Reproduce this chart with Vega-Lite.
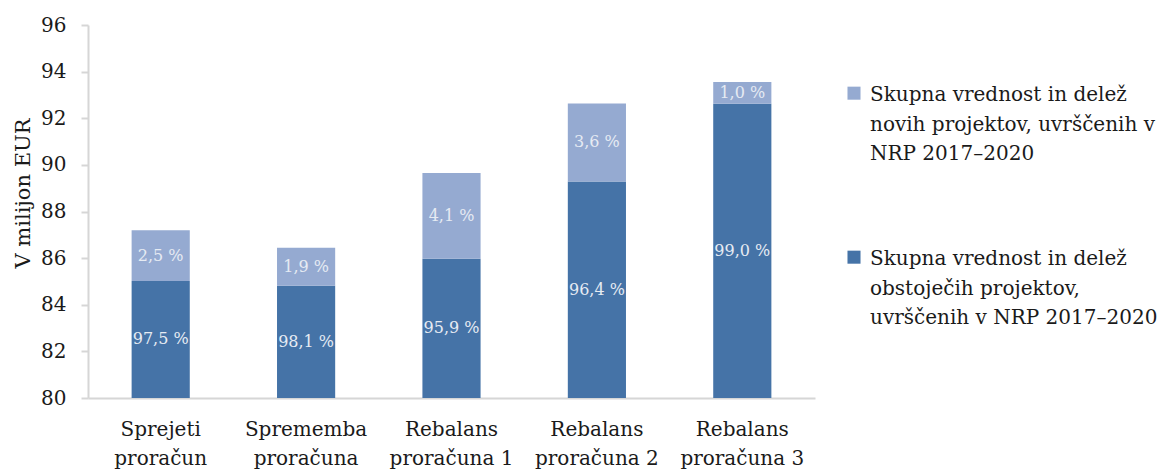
{
  "$schema": "https://vega.github.io/schema/vega-lite/v6.json",
  "autosize": "none",
  "width": 727,
  "height": 373,
  "padding": {"left": 88, "top": 25, "right": 348, "bottom": 74},
  "background": "white",
  "data": {
    "values": [
      {"stage": "Sprejeti proračun", "series": "Skupna vrednost in delež obstoječih projektov, uvrščenih v NRP 2017–2020", "ord": 1, "value": 85.02, "share": 97.5},
      {"stage": "Sprejeti proračun", "series": "Skupna vrednost in delež novih projektov, uvrščenih v NRP 2017–2020", "ord": 2, "value": 2.18, "share": 2.5},
      {"stage": "Sprememba proračuna", "series": "Skupna vrednost in delež obstoječih projektov, uvrščenih v NRP 2017–2020", "ord": 1, "value": 84.81, "share": 98.1},
      {"stage": "Sprememba proračuna", "series": "Skupna vrednost in delež novih projektov, uvrščenih v NRP 2017–2020", "ord": 2, "value": 1.64, "share": 1.9},
      {"stage": "Rebalans proračuna 1", "series": "Skupna vrednost in delež obstoječih projektov, uvrščenih v NRP 2017–2020", "ord": 1, "value": 85.97, "share": 95.9},
      {"stage": "Rebalans proračuna 1", "series": "Skupna vrednost in delež novih projektov, uvrščenih v NRP 2017–2020", "ord": 2, "value": 3.68, "share": 4.1},
      {"stage": "Rebalans proračuna 2", "series": "Skupna vrednost in delež obstoječih projektov, uvrščenih v NRP 2017–2020", "ord": 1, "value": 89.29, "share": 96.4},
      {"stage": "Rebalans proračuna 2", "series": "Skupna vrednost in delež novih projektov, uvrščenih v NRP 2017–2020", "ord": 2, "value": 3.34, "share": 3.6},
      {"stage": "Rebalans proračuna 3", "series": "Skupna vrednost in delež obstoječih projektov, uvrščenih v NRP 2017–2020", "ord": 1, "value": 92.62, "share": 99.0},
      {"stage": "Rebalans proračuna 3", "series": "Skupna vrednost in delež novih projektov, uvrščenih v NRP 2017–2020", "ord": 2, "value": 0.94, "share": 1.0}
    ]
  },
  "transform": [
    {"stack": "value", "groupby": ["stage"], "sort": [{"field": "ord", "order": "ascending"}], "as": ["v0", "v1"]},
    {"calculate": "(max(datum.v0, 80) + datum.v1) / 2", "as": "mid"},
    {"calculate": "replace(format(datum.share, '.1f'), '.', ',') + ' %'", "as": "label"}
  ],
  "encoding": {
    "x": {
      "field": "stage",
      "type": "nominal",
      "sort": null,
      "scale": {"paddingInner": 0.6, "paddingOuter": 0.3},
      "axis": {
        "title": null,
        "labelAngle": 0,
        "ticks": false,
        "labelPadding": 21,
        "labelFont": "DejaVu Serif",
        "labelFontSize": 20,
        "labelExpr": "split(replace(datum.label, ' prora', '|prora'), '|')",
        "labelBaseline": "top"
      }
    }
  },
  "layer": [
    {
      "mark": {"type": "bar", "clip": true},
      "encoding": {
        "y": {
          "field": "v1",
          "type": "quantitative",
          "scale": {"domain": [80, 96], "zero": false, "nice": false},
          "axis": {
            "title": "V milijon EUR",
            "values": [80, 82, 84, 86, 88, 90, 92, 94, 96],
            "grid": false,
            "tickSize": 7,
            "labelPadding": 15,
            "labelFont": "DejaVu Serif",
            "labelFontSize": 20,
            "titleFont": "DejaVu Serif",
            "titleFontSize": 21,
            "titleAngle": -90,
            "titleX": -65,
            "titleY": 168,
            "titleAlign": "center",
            "titleBaseline": "middle"
          }
        },
        "y2": {"field": "v0"},
        "color": {
          "field": "series",
          "type": "nominal",
          "scale": {
            "domain": [
              "Skupna vrednost in delež novih projektov, uvrščenih v NRP 2017–2020",
              "Skupna vrednost in delež obstoječih projektov, uvrščenih v NRP 2017–2020"
            ],
            "range": ["#95aad1", "#4573a7"]
          },
          "legend": {
            "title": null,
            "orient": "none",
            "legendX": 756,
            "legendY": 66,
            "symbolType": "M-1,-2.2L1,-2.2L1,-0.2L-1,-0.2Z",
            "symbolSize": 170,
            "symbolStrokeWidth": 0,
            "symbolOpacity": 1,
            "labelLimit": 400,
            "labelOffset": 6,
            "rowPadding": 85,
            "labelBaseline": "alphabetic",
            "labelFont": "DejaVu Serif",
            "labelFontSize": 20,
            "labelExpr": "indexof(datum.label, 'novih') >= 0 ? ['Skupna vrednost in delež', 'novih projektov, uvrščenih v', 'NRP 2017–2020'] : ['Skupna vrednost in delež', 'obstoječih projektov,', 'uvrščenih v NRP 2017–2020']"
          }
        }
      }
    },
    {
      "mark": {"type": "text", "color": "#e6ebf3", "font": "DejaVu Serif", "fontSize": 16, "baseline": "middle"},
      "encoding": {
        "y": {"field": "mid", "type": "quantitative"},
        "text": {"field": "label"}
      }
    }
  ],
  "config": {
    "view": {"stroke": null},
    "font": "DejaVu Serif",
    "axis": {
      "domainColor": "#d6d6d6",
      "domainWidth": 2,
      "tickColor": "#d6d6d6",
      "tickWidth": 2,
      "labelColor": "#1a1a1a",
      "titleFontWeight": "normal",
      "titleColor": "#1a1a1a"
    },
    "legend": {
      "labelColor": "#1a1a1a"
    },
    "style": {
      "guide-label": {"font": "DejaVu Serif", "fontSize": 20, "lineHeight": 29.5},
      "guide-title": {"font": "DejaVu Serif"}
    }
  }
}
